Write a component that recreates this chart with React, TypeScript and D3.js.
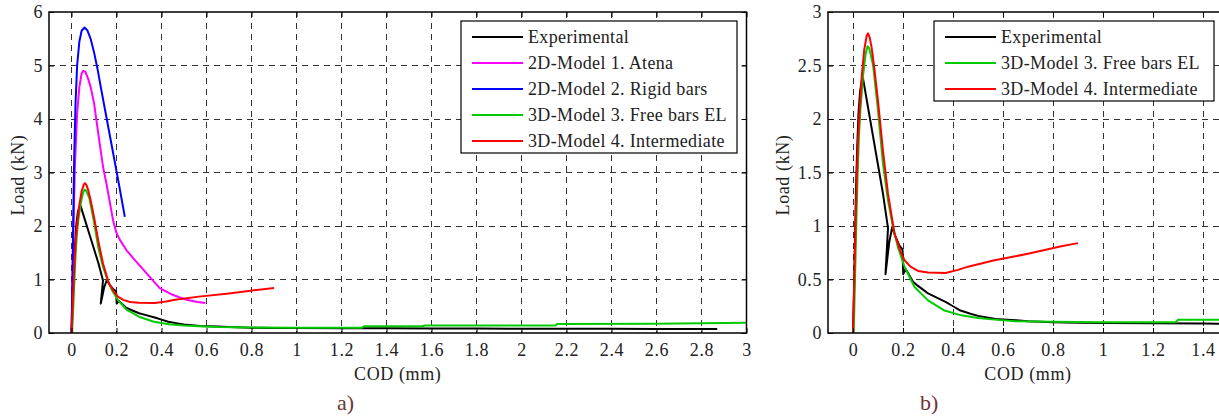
import React, { useRef, useEffect } from 'react';
import * as d3 from 'd3';

// COD (mm), Load (kN) pairs
const experimental: [number, number][] = [
  [0, 0], [0.004, 0.4], [0.008, 0.9], [0.012, 1.35], [0.017, 1.75], [0.022, 2.05], [0.028, 2.25],
  [0.035, 2.36], [0.04, 2.38], [0.06, 2.11], [0.08, 1.84], [0.1, 1.57], [0.12, 1.3], [0.14, 0.98],
  [0.13, 0.55], [0.135, 0.65], [0.145, 0.85], [0.157, 0.99], [0.17, 0.9], [0.185, 0.82], [0.198, 0.78],
  [0.201, 0.55], [0.21, 0.6], [0.22, 0.56], [0.24, 0.48], [0.26, 0.44], [0.3, 0.37], [0.335, 0.33],
  [0.37, 0.29], [0.4, 0.25], [0.43, 0.21], [0.47, 0.18], [0.5, 0.16], [0.57, 0.13], [0.65, 0.12],
  [0.7, 0.11], [0.8, 0.1], [0.9, 0.095], [1.0, 0.093], [1.2, 0.09], [1.4, 0.088], [1.6, 0.085],
  [1.8, 0.083], [2.0, 0.08], [2.2, 0.078], [2.4, 0.078], [2.6, 0.075], [2.87, 0.075],
];

const model1Atena: [number, number][] = [
  [0, 0], [0.005, 1.0], [0.01, 2.2], [0.015, 3.1], [0.025, 4.1], [0.035, 4.6], [0.045, 4.85],
  [0.052, 4.9], [0.062, 4.88], [0.074, 4.75], [0.085, 4.6], [0.1, 4.3], [0.12, 3.7], [0.14, 3.11],
  [0.155, 2.8], [0.17, 2.45], [0.185, 2.1], [0.2, 1.87], [0.215, 1.74], [0.244, 1.55], [0.274, 1.4],
  [0.333, 1.12], [0.392, 0.84], [0.452, 0.71], [0.511, 0.62], [0.56, 0.58], [0.595, 0.56],
];

const model2Rigid: [number, number][] = [
  [0, 0], [0.004, 1.0], [0.008, 2.2], [0.012, 3.3], [0.018, 4.3], [0.025, 5.0], [0.035, 5.45],
  [0.045, 5.65], [0.058, 5.71], [0.07, 5.66], [0.085, 5.5], [0.1, 5.25], [0.115, 4.95], [0.13, 4.6],
  [0.15, 4.15], [0.17, 3.7], [0.19, 3.25], [0.21, 2.8], [0.237, 2.17],
];

const model3Free: [number, number][] = [
  [0.003, 0], [0.008, 0.5], [0.013, 1.0], [0.018, 1.45], [0.024, 1.85], [0.03, 2.1], [0.04, 2.4],
  [0.05, 2.6], [0.058, 2.68], [0.065, 2.66], [0.08, 2.51], [0.1, 2.08], [0.12, 1.58], [0.14, 1.24],
  [0.16, 0.99], [0.18, 0.8], [0.206, 0.62], [0.246, 0.43], [0.3, 0.305], [0.366, 0.21], [0.433, 0.165],
  [0.5, 0.14], [0.566, 0.125], [0.65, 0.11], [0.8, 0.105], [1.0, 0.1], [1.29, 0.1], [1.3, 0.125],
  [1.56, 0.125], [1.57, 0.14], [2.15, 0.14], [2.16, 0.17], [2.6, 0.175], [3.0, 0.19],
];

const model4Inter: [number, number][] = [
  [0, 0], [0.005, 0.5], [0.01, 1.0], [0.015, 1.45], [0.02, 1.8], [0.027, 2.1], [0.035, 2.4],
  [0.045, 2.65], [0.055, 2.78], [0.06, 2.8], [0.067, 2.76], [0.075, 2.66], [0.085, 2.48], [0.1, 2.17],
  [0.12, 1.7], [0.14, 1.3], [0.166, 0.93], [0.19, 0.76], [0.206, 0.68], [0.23, 0.62], [0.26, 0.58],
  [0.3, 0.565], [0.37, 0.56], [0.42, 0.59], [0.46, 0.62], [0.566, 0.68], [0.7, 0.74], [0.833, 0.81],
  [0.9, 0.84],
];

const leftSeries = [
  { name: 'Experimental', color: '#000000', data: experimental },
  { name: '2D-Model 1. Atena', color: '#ff00ff', data: model1Atena },
  { name: '2D-Model 2. Rigid bars', color: '#0000ff', data: model2Rigid },
  { name: '3D-Model 3. Free bars EL', color: '#00cc00', data: model3Free },
  { name: '3D-Model 4. Intermediate', color: '#ff0000', data: model4Inter },
];

const rightSeries = [
  { name: 'Experimental', color: '#000000', data: experimental },
  { name: '3D-Model 3. Free bars EL', color: '#00cc00', data: model3Free },
  { name: '3D-Model 4. Intermediate', color: '#ff0000', data: model4Inter },
];

const leftXTicks = d3.range(0, 3.01, 0.2).map(v => +v.toFixed(1));
const leftYTicks = [0, 1, 2, 3, 4, 5, 6];
const rightXTicks = d3.range(0, 1.51, 0.2).map(v => +v.toFixed(1));
const rightYTicks = [0, 0.5, 1, 1.5, 2, 2.5, 3];

const FONT = 'Liberation Serif, Times New Roman, serif';

type Series = { name: string; color: string; data: [number, number][] };

function drawPanel(svg: any, opts: {
  id: string; x0: number; x1: number; xDomain: [number, number]; yMax: number;
  xTicks: number[]; yTicks: number[]; series: Series[];
  legend: { x: number; y: number; w: number }; tag: string; tagX: number; yLabelX: number;
}) {
  const top = 12, bottom = 333;
  const x = d3.scaleLinear().domain(opts.xDomain).range([opts.x0, opts.x1]);
  const y = d3.scaleLinear().domain([0, opts.yMax]).range([bottom, top]);

  const g = svg.append('g');
  g.append('clipPath').attr('id', opts.id)
    .append('rect').attr('x', opts.x0).attr('y', top)
    .attr('width', opts.x1 - opts.x0).attr('height', bottom - top);

  // grid
  const grid = g.append('g').attr('stroke', '#333').attr('stroke-width', 1)
    .attr('stroke-dasharray', '6,5').attr('shape-rendering', 'crispEdges');
  opts.xTicks.forEach(t => {
    grid.append('line').attr('x1', x(t)).attr('x2', x(t)).attr('y1', top).attr('y2', bottom);
  });
  opts.yTicks.filter(t => t > 0 && t < opts.yMax).forEach(t => {
    grid.append('line').attr('x1', opts.x0).attr('x2', opts.x1).attr('y1', y(t)).attr('y2', y(t));
  });

  // curves
  const line = d3.line<[number, number]>().x(d => x(d[0])).y(d => y(d[1]));
  const curves = g.append('g').attr('clip-path', `url(#${opts.id})`);
  opts.series.forEach(s => {
    curves.append('path').attr('d', line(s.data)).attr('fill', 'none')
      .attr('stroke', s.color).attr('stroke-width', 2).attr('stroke-linejoin', 'round');
  });

  // axes, ticks inward
  const bottomAxis = g.append('g').attr('transform', `translate(0,${bottom})`)
    .call(d3.axisBottom(x).tickValues(opts.xTicks).tickSizeInner(-5).tickSizeOuter(0).tickPadding(10)
      .tickFormat(d3.format('')));
  g.append('g').attr('transform', `translate(0,${top})`)
    .call(d3.axisTop(x).tickValues(opts.xTicks).tickSizeInner(-5).tickSizeOuter(0).tickFormat(() => ''));
  const leftAxis = g.append('g').attr('transform', `translate(${opts.x0},0)`)
    .call(d3.axisLeft(y).tickValues(opts.yTicks).tickSizeInner(-5).tickSizeOuter(0).tickPadding(6)
      .tickFormat(d3.format('')));
  g.append('g').attr('transform', `translate(${opts.x1},0)`)
    .call(d3.axisRight(y).tickValues(opts.yTicks).tickSizeInner(-5).tickSizeOuter(0).tickFormat(() => ''));
  g.selectAll('.domain').remove();
  g.selectAll('.tick line').attr('stroke', '#000').attr('stroke-width', 1);
  [bottomAxis, leftAxis].forEach(a => {
    a.attr('font-family', FONT).attr('font-size', 18);
    a.selectAll('text').attr('font-family', FONT).attr('font-size', 18)
      .attr('letter-spacing', '0.6px').attr('fill', '#222');
  });

  g.append('rect').attr('x', opts.x0).attr('y', top).attr('width', opts.x1 - opts.x0)
    .attr('height', bottom - top).attr('fill', 'none').attr('stroke', '#000').attr('stroke-width', 1.5);

  // labels
  g.append('text').attr('x', (opts.x0 + opts.x1) / 2).attr('y', 380).attr('text-anchor', 'middle')
    .attr('font-family', FONT).attr('font-size', 18).attr('letter-spacing', '0.6px')
    .attr('fill', '#222').text('COD (mm)');
  g.append('text').attr('transform', `translate(${opts.yLabelX},175) rotate(-90)`)
    .attr('text-anchor', 'middle').attr('font-family', FONT).attr('font-size', 18)
    .attr('letter-spacing', '0.6px').attr('fill', '#222').text('Load (kN)');
  g.append('text').attr('x', opts.tagX).attr('y', 410)
    .attr('font-family', FONT).attr('font-size', 22).attr('fill', '#6e3434').text(opts.tag);

  // legend
  const rowH = 26;
  const lg = g.append('g');
  lg.append('rect').attr('x', opts.legend.x).attr('y', opts.legend.y).attr('width', opts.legend.w)
    .attr('height', opts.series.length * rowH + 2).attr('fill', '#fff').attr('stroke', '#000').attr('stroke-width', 1.2);
  opts.series.forEach((s, i) => {
    const cy = opts.legend.y + 16 + i * rowH;
    lg.append('line').attr('x1', opts.legend.x + 11).attr('x2', opts.legend.x + 62)
      .attr('y1', cy).attr('y2', cy).attr('stroke', s.color).attr('stroke-width', 2);
    lg.append('text').attr('x', opts.legend.x + 67).attr('y', cy + 6)
      .attr('font-family', FONT).attr('font-size', 18).attr('letter-spacing', '0.35px')
      .attr('fill', '#222').text(s.name);
  });
}

const App = () => {
  const svgRef = useRef<SVGSVGElement>(null);

  useEffect(() => {
    const svg = d3.select(svgRef.current);
    svg.selectAll('*').remove();

    drawPanel(svg, {
      id: 'clipA', x0: 49, x1: 746.5, xDomain: [-0.1, 3], yMax: 6,
      xTicks: leftXTicks, yTicks: leftYTicks, series: leftSeries,
      legend: { x: 461, y: 21, w: 276 }, tag: 'a)', tagX: 337, yLabelX: 24,
    });
    drawPanel(svg, {
      id: 'clipB', x0: 828, x1: 1228, xDomain: [-0.1, 1.5], yMax: 3,
      xTicks: rightXTicks, yTicks: rightYTicks, series: rightSeries,
      legend: { x: 934, y: 21, w: 280 }, tag: 'b)', tagX: 920, yLabelX: 789,
    });
  }, []);

  return (
    <svg ref={svgRef} width={1219} height={419} fontFamily={FONT}
      style={{ position: 'absolute', left: 0, top: 0, background: '#fff' }} />
  );
};

export default App;
